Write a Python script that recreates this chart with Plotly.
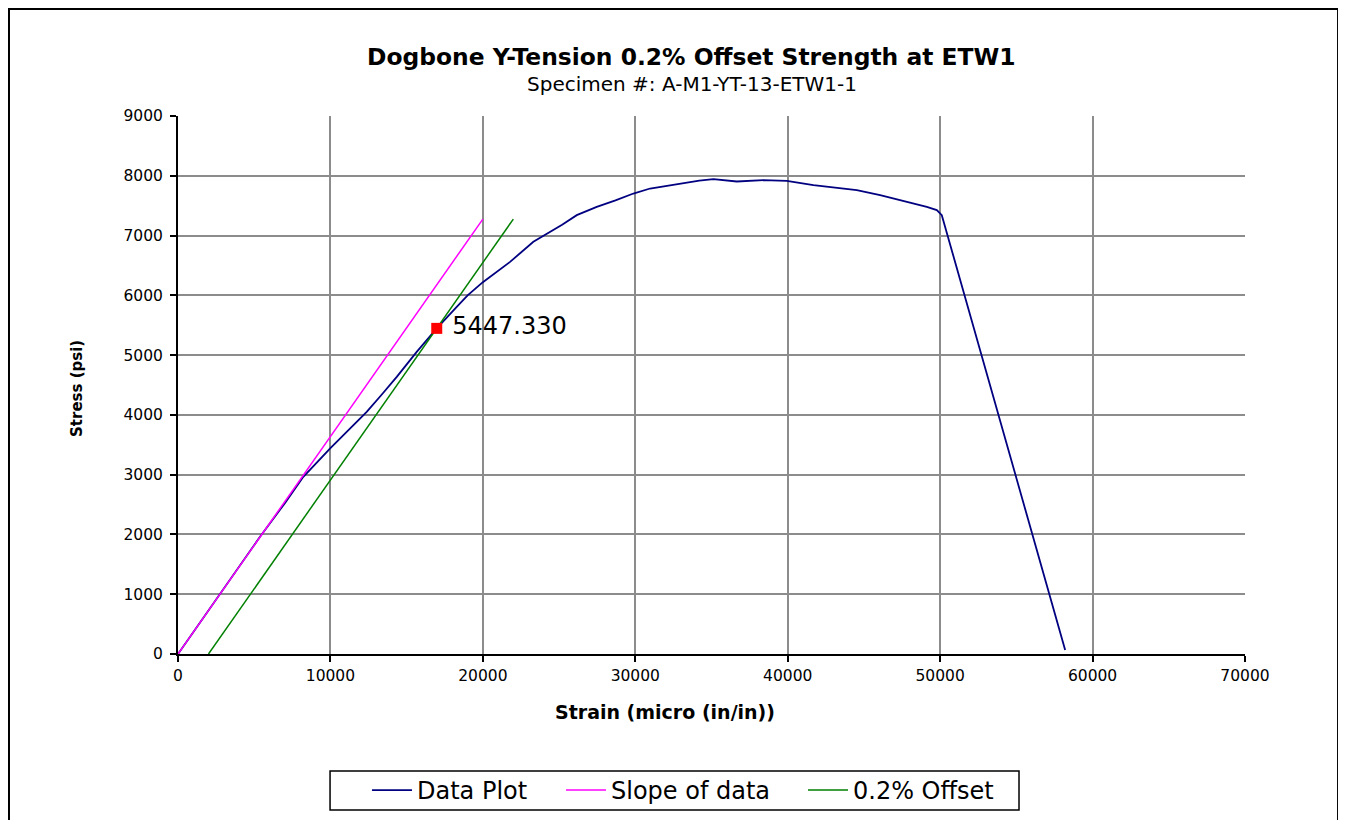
import plotly.graph_objects as go

# ---- data ----
strain = [0, 2000, 4000, 5380, 7000, 8222, 10000, 11200, 12380, 13400, 14350,
          15660, 16975, 18286, 19000, 20000, 21785, 23314, 24190, 25200, 26160,
          27472, 28700, 29877, 30971, 32940, 34200, 35126, 36658, 38407, 39938,
          41687, 43200, 44532, 46063, 47600, 49125, 49781, 50109, 58202]
stress = [0, 730, 1450, 1962, 2520, 2965, 3445, 3760, 4052, 4350, 4637,
          5055, 5447, 5808, 6000, 6220, 6560, 6895, 7023, 7180, 7341,
          7480, 7590, 7703, 7787, 7870, 7920, 7943, 7904, 7926, 7915,
          7843, 7800, 7759, 7676, 7580, 7480, 7425, 7341, 67]

slope_strain = [0, 20000]
slope_stress = [0, 7276]

offset_strain = [2000, 22000]
offset_stress = [0, 7276]

yield_strain = [16975]
yield_stress = [5447.33]
yield_label = [" 5447.330"]

x_ticks = [0, 10000, 20000, 30000, 40000, 50000, 60000, 70000]
y_ticks = [0, 1000, 2000, 3000, 4000, 5000, 6000, 7000, 8000, 9000]

FONT = "DejaVu Sans"

fig = go.Figure()
fig.add_trace(go.Scatter(x=strain, y=stress, mode="lines", name="Data Plot",
                         legendwidth=139,
                         line=dict(color="#000080", width=1.8)))
fig.add_trace(go.Scatter(x=slope_strain, y=slope_stress, mode="lines", name="Slope of data",
                         legendwidth=187,
                         line=dict(color="#FF00FF", width=1.5)))
fig.add_trace(go.Scatter(x=offset_strain, y=offset_stress, mode="lines", name="0.2% Offset",
                         legendwidth=140,
                         line=dict(color="#008000", width=1.5)))
fig.add_trace(go.Scatter(x=yield_strain, y=yield_stress, mode="markers+text",
                         text=yield_label, textposition="middle right",
                         textfont=dict(family=FONT, size=24, color="black"),
                         marker=dict(symbol="square", size=11, color="#FF0000"),
                         showlegend=False, cliponaxis=False))

axis_common = dict(showline=True, linecolor="black", linewidth=2,
                   ticks="outside", ticklen=6, tickcolor="black", tickwidth=1.5,
                   showgrid=True, gridcolor="#8c8c8c", gridwidth=2,
                   zeroline=False, automargin=False,
                   tickfont=dict(family=FONT, size=15.5, color="black"))

fig.update_xaxes(range=[0, 70000], tickvals=x_ticks,
                 ticktext=[str(v) for v in x_ticks], **axis_common)
fig.update_yaxes(range=[0, 9000], tickvals=y_ticks, ticklabelstandoff=4,
                 ticktext=[str(v) for v in y_ticks], **axis_common)

fig.update_layout(
    width=1338, height=812,
    margin=dict(l=170, r=101, t=108, b=166, autoexpand=False),
    paper_bgcolor="white", plot_bgcolor="white",
    font=dict(family=FONT, color="black"),
    showlegend=True,
    legend=dict(orientation="h", x=0.4728, xanchor="center", y=-0.2119, yanchor="top",
                borderwidth=0, bgcolor="rgba(0,0,0,0)",
                font=dict(family=FONT, size=24, color="black"),
                itemwidth=40, tracegroupgap=0),
    annotations=[
        dict(text="<b>Dogbone Y-Tension 0.2% Offset Strength at ETW1</b>",
             x=0.4817, y=1.1097, xref="paper", yref="paper", showarrow=False,
             xanchor="center", yanchor="middle", font=dict(family=FONT, size=23.4)),
        dict(text="Specimen #: A-M1-YT-13-ETW1-1",
             x=0.4817, y=1.0595, xref="paper", yref="paper", showarrow=False,
             xanchor="center", yanchor="middle", font=dict(family=FONT, size=20)),
        dict(text="<b>Strain (micro (in/in))</b>",
             x=0.4564, y=-0.1078, xref="paper", yref="paper", showarrow=False,
             xanchor="center", yanchor="middle", font=dict(family=FONT, size=19)),
        dict(text="<b>Stress (psi)</b>", textangle=-90,
             x=-0.0947, y=0.4944, xref="paper", yref="paper", showarrow=False,
             xanchor="center", yanchor="middle", font=dict(family=FONT, size=15)),
    ],
    shapes=[
        # outer chart border
        dict(type="rect", xref="paper", yref="paper",
             x0=-0.1584, x1=1.0872, y0=-0.36, y1=1.1989,
             line=dict(color="black", width=2), fillcolor="rgba(0,0,0,0)", layer="below"),
        # legend frame
        dict(type="rect", xref="paper", yref="paper",
             x0=0.1425, x1=0.7882, y0=-0.29, y1=-0.2175,
             line=dict(color="black", width=1.5), fillcolor="white", layer="below"),
    ],
)

fig.write_html("out.html")
